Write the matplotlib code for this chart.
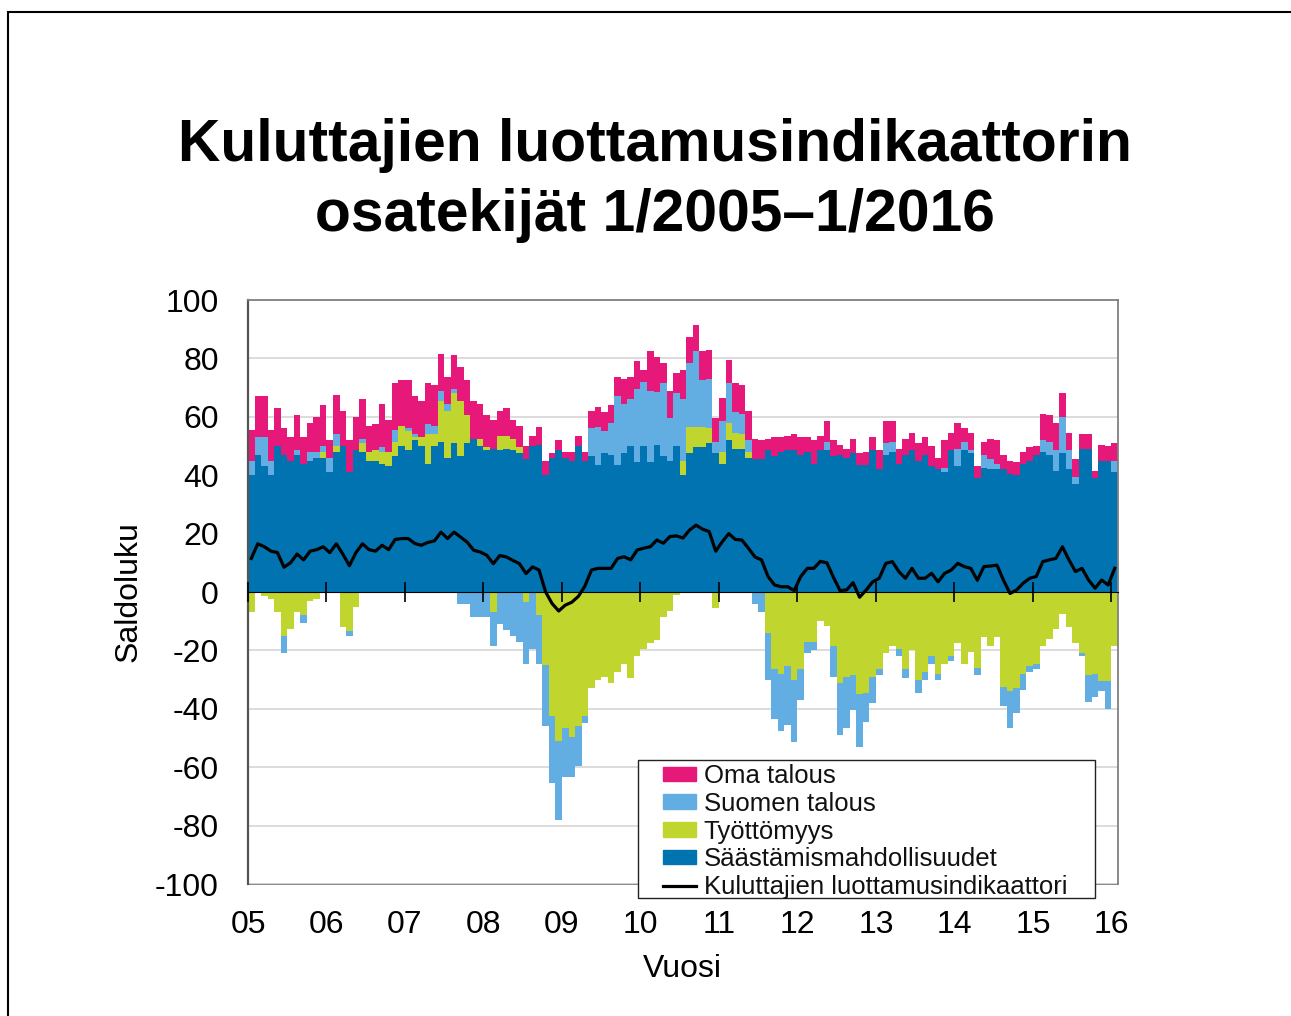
import numpy as np
import matplotlib
matplotlib.use('Agg')
import matplotlib.pyplot as plt
from matplotlib.patches import Patch, Rectangle
from matplotlib.lines import Line2D

plt.rcParams['font.family'] = ['Liberation Sans', 'DejaVu Sans']
plt.rcParams['axes.unicode_minus'] = False

# kuukausittaiset saldoluvut 1/2005 - 1/2016
vuodet = ['05', '06', '07', '08', '09', '10', '11', '12', '13', '14', '15', '16']

saasto = [40, 47, 43, 40, 50, 47, 45, 47, 44, 45, 46, 46,
          41, 48, 50, 41, 48.5, 48, 45, 45, 44, 43, 46.5, 50,
          48.5, 52, 50, 44, 50, 51.5, 46, 51, 46.5, 51, 52.5, 50,
          48.5, 49, 48.5, 49, 48.5, 47.5, 45.5, 50, 50.5, 40, 46, 48.5,
          46, 45, 50, 45, 46.5, 43.5, 47.5, 47, 43.5, 47.5, 50, 44.5,
          50, 44.5, 50.5, 46.5, 45, 50, 40, 47.5, 49.5, 49.5, 51, 47.5,
          44, 52, 49, 49, 46, 45.5, 45.5, 48.5, 46.5, 48, 48.5, 48.5,
          47, 48, 44, 48.5, 48.5, 46.5, 47, 46, 47.5, 43.5, 43.5, 48.5,
          42, 47, 48, 44, 47, 48.5, 45, 47, 43, 42, 41, 48.5,
          43, 48.5, 47.5, 39, 42.5, 42, 42, 42, 40.5, 40, 44, 45,
          47, 48, 47, 41.5, 47.5, 42, 37, 49, 49, 39, 45, 45, 41]

tyott = [-7, -0.5, -1.5, -2.5, -7, -15, -12.5, -7, -8, -3, -2.5, 2,
         -0.5, 2, -12, -13.5, -5, 3, 3, 3.5, 4, 5, 5, 7,
         6.5, 1, 3, 10, 4, 14, 16, 17, 19, 9.5, 0, 2.5,
         1, -7, 5, 4.5, 4, 2, -3.5, 0, -8, -25, -42.5, -51,
         -46.5, -49.5, -46, -42.5, -33, -30, -29, -31, -27.5, -24.5, -29.5, -22,
         -19.5, -17.5, -16.5, -8.5, -6.5, -1, 5, 9, 7, 7, 5, -5.5,
         4, 6, 5.5, 5, 2, 0, 0, -14, -26.5, -28, -25.5, -30,
         -26.5, -17, -17, -10, -11.5, -18.5, -31, -29, -28.5, -35, -34.5, -29,
         -26.5, -21, -18.5, -19.5, -26.5, -20, -30, -27.5, -22, -28, -24.5, -22,
         -17.5, -24.5, -20.5, -26, -15.5, -18.5, -15.5, -32.5, -34, -33, -28, -25.5,
         -24.5, -18.5, -16, -12.5, -7.5, -12, -17.5, -21, -28.5, -28, -30.5, -30.5, -18.5]

suomi = [5, 6, 10, 5, 0, -6, 0, 1.5, -2.5, 3, 2, 2,
         5, 4, 0, -1.5, 0, 1.5, 0, 0, 1.5, 0, 4, 0,
         1, 1, 0, 3.5, 3, 3.5, 2.5, 1.5, -4, -4, -8.5, -8.5,
         -8.5, -11.5, -11, -13, -15, -17, -21, -19.5, -16.5, -21, -23, -27,
         -17, -14, -13.5, -2.5, 9.5, 13, 7.5, 11, 23.5, 17, 16, 25,
         22, 24.5, 18, 25, 14.5, 18, 21, 22, 26, 16, 17, 4,
         10.5, 13.5, 7, 7, 4, -4, -7, -16, -17, -19.5, -20, -21.5,
         -10.5, -4, -3, 0, 3, -10.5, -18, -17.5, -12, -18, -10, -9,
         -2, 4, 3.5, -2.5, -3, 0, -4.5, -2.5, -2.5, -2, 1.5, -1.5,
         6, 3, 1, -2.5, 4.5, 3.5, 2, -6.5, -12.5, -8.5, -5.5, -2,
         -2, 4, 4.5, 7, 12.5, 6.5, 2.5, -1, -9, -8, -3.5, -9.5, 4]

oma = [10.5, 14, 14, 10.5, 13, 9, 8, 12, 9, 10, 12, 14,
       6, 13.5, 12, 11, 11.5, 13.5, 9, 9, 15, 11, 16, 15.5,
       16.5, 13, 12.5, 14, 14, 12.5, 9, 11.5, 11.5, 12, 13, 12,
       11, 10, 8.5, 9.5, 6.5, 7.5, 4.5, 3.5, 6, 5, 1.5, 3.5,
       2, 3, 3.5, 3, 6, 7, 6.5, 6, 6.5, 8.5, 7.5, 9.5,
       4, 13.5, 12, 7, 9.5, 7, 10, 9, 9, 10, 10, 8,
       8, 8, 10, 10, 10, 7, 6.5, 4, 6.5, 5, 5, 5.5,
       6, 5, 8, 5, 7, 5.5, 3.5, 3, 5, 4, 4.5, 4.5,
       6.5, 7.5, 7, 5, 5.5, 6, 6, 6, 7, 4, 9.5, 6,
       9, 4.5, 6, 4, 4.5, 7, 8, 5, 4.5, 4.5, 4, 4.5,
       3, 9, 9, 9.5, 8, 6, 6, 5, 5, 2.5, 5.5, 5, 6]

indikaattori = [11.5, 16.5, 15.5, 14, 13.5, 8.5, 10, 13, 11, 14, 14.5, 15.5,
                13.5, 16.5, 13, 9, 13.5, 16.5, 14.5, 14, 16, 14.5, 18, 18.3,
                18.3, 16.6, 16, 17, 17.5, 20.5, 18.3, 20.5, 18.8, 17.1, 14.3, 13.7,
                12.6, 9.7, 12.5, 12, 10.8, 9.7, 6.3, 8.6, 7.5, 0, -4, -6.5,
                -4.5, -3.5, -1.5, 2, 7.5, 8.1, 8.1, 8.1, 11.5, 12.1, 11, 14.4,
                15, 15.5, 17.8, 16.7, 19, 19.2, 18.5, 21.2, 22.9, 21.5, 20.7, 14,
                17.2, 20, 18, 17.8, 15, 12, 11, 5.3, 2.4, 1.8, 1.8, 0.5,
                5.3, 8.1, 8.1, 10.5, 10, 5, 0.5, 0.7, 3.2, -1.8, 0.7, 3.5,
                4.7, 9.8, 10.4, 7, 4.7, 8.1, 4.7, 4.7, 6.4, 3.5, 6.4, 7.5,
                9.8, 8.7, 8.1, 4, 8.7, 8.9, 9.2, 4, -0.5, 0.7, 3, 4.7,
                5.3, 10.4, 11, 11.5, 15.5, 11, 7, 8.1, 4.1, 1.3, 4.1, 2.4, 8.1]

c_oma = '#E6197A'
c_suomi = '#62AEE2'
c_tyott = '#C0D62E'
c_saasto = '#0073B0'

S = np.array(saasto)
T = np.array(tyott)
F = np.array(suomi)
O = np.array(oma)
x = np.arange(len(S))
tp = np.clip(T, 0, None)
tn = np.clip(T, None, 0)
fp = np.clip(F, 0, None)
fn = np.clip(F, None, 0)

W, H = 1291, 1016
fig = plt.figure(figsize=(W / 100, H / 100), dpi=100)
ax = fig.add_axes([248 / W, 1 - 884 / H, 870 / W, 584 / H])

kw = dict(width=1.0, align='edge', linewidth=0, antialiased=False, zorder=2)
ax.bar(x, S, color=c_saasto, **kw)
ax.bar(x, tp, bottom=S, color=c_tyott, **kw)
ax.bar(x, fp, bottom=S + tp, color=c_suomi, **kw)
ax.bar(x, O, bottom=S + tp + fp, color=c_oma, **kw)
ax.bar(x, tn, color=c_tyott, **kw)
ax.bar(x, fn, bottom=tn, color=c_suomi, **kw)
ax.plot(x + 0.5, indikaattori, color='black', lw=2.3, zorder=4)

ax.set_xlim(0, 133)
ax.set_ylim(-100, 100)
ax.set_yticks(range(-100, 101, 20))
ax.tick_params(axis='y', length=0, pad=21, labelsize=23)
ax.yaxis.grid(True, color='#D9D9D9', lw=1.3)
ax.set_axisbelow(True)

for s in ['top', 'right']:
    ax.spines[s].set_color('#808080')
    ax.spines[s].set_linewidth(1.3)
ax.spines['left'].set_color('#555555')
ax.spines['left'].set_linewidth(1.6)
ax.spines['bottom'].set_visible(False)
ax.tick_params(axis='x', length=0, labelbottom=False)

# nollalinja ja vuosien jakoviivat palkkien paalle
zero = ax.secondary_xaxis(0.5)
zero.set_zorder(5)
zero.set_xticks(range(0, 133, 12), labels=[''] * 12)
zero.tick_params(direction='inout', length=14, width=1.2, color='black',
                 labelbottom=False, labeltop=False)
zero.spines['bottom'].set_color('black')
zero.spines['bottom'].set_linewidth(1.3)

sec = ax.secondary_xaxis('bottom')
sec.set_xticks(range(0, 133, 12), labels=vuodet)
sec.tick_params(length=0, pad=19, labelsize=23)
sec.spines['bottom'].set_color('#808080')
sec.spines['bottom'].set_linewidth(1.3)

fig.text(129 / W, 1 - 592 / H, 'Saldoluku', rotation=90, fontsize=23,
         ha='center', va='center')
fig.text(682 / W, 1 - 969 / H, 'Vuosi', fontsize=23, ha='center', va='center')

fig.text(655 / W, 1 - 161 / H, 'Kuluttajien luottamusindikaattorin',
         fontsize=42.3, weight='bold', ha='center', va='baseline')
fig.text(655 / W, 1 - 231 / H, 'osatekijät 1/2005–1/2016',
         fontsize=42.3, weight='bold', ha='center', va='baseline')

# selitteen kehys
ax.add_patch(Rectangle(((638 - 248) / 870, (884 - 898) / 584),
                       (1095 - 638) / 870, (898 - 760) / 584,
                       transform=ax.transAxes, facecolor='white',
                       edgecolor='#222222', lw=1.0, zorder=6, clip_on=False))
handles = [Patch(color=c_oma), Patch(color=c_suomi), Patch(color=c_tyott),
           Patch(color=c_saasto), Line2D([], [], color='black', lw=2.3)]
labels = ['Oma talous', 'Suomen talous', 'Työttömyys',
          'Säästämismahdollisuudet', 'Kuluttajien luottamusindikaattori']
leg = ax.legend(handles, labels, loc='upper left',
                bbox_to_anchor=((663 - 248) / 870, (884 - 764) / 584),
                fontsize=18.5, frameon=False, borderpad=0, borderaxespad=0,
                labelspacing=0.146, handlelength=1.3, handleheight=0.5,
                handletextpad=0.28)
leg.set_zorder(7)
for t in leg.get_texts():
    t.set_color('#111111')

fig.patches.append(Rectangle((8 / W, -0.1), 1.2, 1 - 12 / H + 0.1,
                             transform=fig.transFigure, fill=False,
                             edgecolor='black', lw=1.5))

fig.savefig('out.png', dpi=100, facecolor='white')
